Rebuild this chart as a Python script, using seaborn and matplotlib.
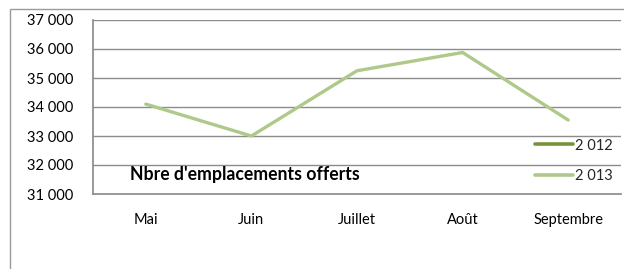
import numpy as np
import pandas as pd
import matplotlib
matplotlib.use("Agg")
import matplotlib.pyplot as plt
import seaborn as sns
from matplotlib.lines import Line2D
from matplotlib.patches import Rectangle

months = ["Mai", "Juin", "Juillet", "Août", "Septembre"]
values_2013 = [34100, 33000, 35250, 35880, 33550]
series_names = ["2 012", "2 013"]
yticks = [31000, 32000, 33000, 34000, 35000, 36000, 37000]
ytick_labels = ["31 000", "32 000", "33 000", "34 000", "35 000", "36 000", "37 000"]
title = "Nbre d'emplacements offerts"

sns.set_theme(style="white")
plt.rcParams['font.family'] = ['Lato', 'DejaVu Sans']

c2012 = "#77933C"
c2013 = "#AFC98A"
grid_c = "#8C8C8C"

df = pd.DataFrame({"mois": months, "val": values_2013, "serie": series_names[1]})

fig = plt.figure(figsize=(6.24, 2.69), dpi=100)
fig.patch.set_facecolor("white")
fig.add_artist(Rectangle((10/624, -0.05), 700/624, 1 - 9/269 + 0.05, transform=fig.transFigure,
                         fill=False, edgecolor="#9A9A9A", linewidth=1.0))

ax = fig.add_axes([93/624, 1 - 194/269, (621 - 93)/624, (194 - 20)/269])
sns.lineplot(data=df, x="mois", y="val", ax=ax, color=c2013, linewidth=2.4,
             sort=False, legend=False)

ax.set_xlim(-0.5, 4.5)
ax.set_ylim(31000, 37000)
ax.set_yticks(yticks)
ax.set_yticklabels(ytick_labels)
ax.set_xticks(range(len(months)))
ax.set_xticklabels(months)
ax.set_xlabel("")
ax.set_ylabel("")
ax.tick_params(axis="both", length=0, labelsize=10.5, colors="black")
ax.tick_params(axis="x", pad=14)
ax.tick_params(axis="y", pad=14)
for y in yticks[1:]:
    ax.axhline(y, color=grid_c, linewidth=1.0, zorder=0)
for s in ["top", "right"]:
    ax.spines[s].set_visible(False)
ax.spines["left"].set_color(grid_c)
ax.spines["bottom"].set_color(grid_c)

ax.text(0.07, 0.11, title, transform=ax.transAxes, fontsize=12.7, fontweight="bold",
        ha="left", va="center", color="black")

handles = [Line2D([0], [0], color=c2012, linewidth=2.6),
           Line2D([0], [0], color=c2013, linewidth=2.6)]
ax.legend(handles, series_names, loc="center right", bbox_to_anchor=(0.995, 0.19),
          frameon=False, fontsize=10.5, handlelength=2.6, handletextpad=0.1,
          labelspacing=1.15, borderaxespad=0.0)

fig.savefig("out.png", dpi=100, facecolor="white")
